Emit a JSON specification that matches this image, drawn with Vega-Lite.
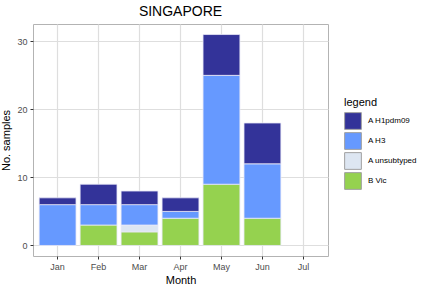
{
  "$schema": "https://vega.github.io/schema/vega-lite/v6.json",
  "width": 295,
  "height": 232,
  "autosize": {"type": "none"},
  "padding": {"left": 33, "top": 24, "right": 104, "bottom": 32},
  "background": "white",
  "title": {"text": "SINGAPORE", "fontSize": 14, "font": "Liberation Sans", "fontWeight": "normal", "color": "black", "offset": 5, "anchor": "middle"},
  "data": {
    "values": [
      {"month": "Jan", "type": "A H3", "n": 6, "ord": 3},
      {"month": "Jan", "type": "A H1pdm09", "n": 1, "ord": 4},
      {"month": "Feb", "type": "B Vic", "n": 3, "ord": 1},
      {"month": "Feb", "type": "A H3", "n": 3, "ord": 3},
      {"month": "Feb", "type": "A H1pdm09", "n": 3, "ord": 4},
      {"month": "Mar", "type": "B Vic", "n": 2, "ord": 1},
      {"month": "Mar", "type": "A unsubtyped", "n": 1, "ord": 2},
      {"month": "Mar", "type": "A H3", "n": 3, "ord": 3},
      {"month": "Mar", "type": "A H1pdm09", "n": 2, "ord": 4},
      {"month": "Apr", "type": "B Vic", "n": 4, "ord": 1},
      {"month": "Apr", "type": "A H3", "n": 1, "ord": 3},
      {"month": "Apr", "type": "A H1pdm09", "n": 2, "ord": 4},
      {"month": "May", "type": "B Vic", "n": 9, "ord": 1},
      {"month": "May", "type": "A H3", "n": 16, "ord": 3},
      {"month": "May", "type": "A H1pdm09", "n": 6, "ord": 4},
      {"month": "Jun", "type": "B Vic", "n": 4, "ord": 1},
      {"month": "Jun", "type": "A H3", "n": 8, "ord": 3},
      {"month": "Jun", "type": "A H1pdm09", "n": 6, "ord": 4}
    ]
  },
  "mark": {"type": "bar", "stroke": "#E8E8F8", "strokeWidth": 0.8},
  "encoding": {
    "x": {
      "field": "month", "type": "nominal", "title": "Month",
      "scale": {"domain": ["Jan", "Feb", "Mar", "Apr", "May", "Jun", "Jul"], "paddingInner": 0.1, "paddingOuter": 0.15},
      "axis": {"labelAngle": 0, "labelColor": "#4D4D4D", "labelFontSize": 9, "labelFont": "Liberation Sans", "titleFont": "Liberation Sans", "titleFontSize": 11, "titleFontWeight": "normal", "titleColor": "black", "tickColor": "#333333", "tickSize": 3, "domain": false, "grid": true, "gridColor": "#DEDEDE", "gridWidth": 1.2, "labelPadding": 3, "titlePadding": 3}
    },
    "y": {
      "field": "n", "type": "quantitative", "aggregate": "sum", "title": "No. samples", "stack": "zero",
      "scale": {"domain": [-1.55, 32.55], "nice": false, "zero": false},
      "axis": {"values": [0, 10, 20, 30], "labelColor": "#4D4D4D", "labelFontSize": 9, "labelFont": "Liberation Sans", "titleFont": "Liberation Sans", "titleFontSize": 11, "titleFontWeight": "normal", "titleColor": "black", "tickColor": "#333333", "tickSize": 3, "domain": false, "grid": true, "gridColor": "#DEDEDE", "gridWidth": 1.2, "labelPadding": 3, "titlePadding": 5}
    },
    "color": {
      "field": "type", "type": "nominal", "title": "legend",
      "scale": {"domain": ["A H1pdm09", "A H3", "A unsubtyped", "B Vic"], "range": ["#333399", "#6699FF", "#DDE6F2", "#95D24F"]},
      "legend": {"orient": "none", "legendX": 311, "legendY": 73, "titleFont": "Liberation Sans", "titleFontSize": 11, "titleFontWeight": "normal", "titleColor": "black", "titlePadding": 4, "labelFont": "Liberation Sans", "labelFontSize": 8, "labelColor": "black", "labelOffset": 6, "symbolType": "square", "symbolSize": 280, "symbolStrokeColor": "#A0A0A0", "symbolStrokeWidth": 1, "rowPadding": -4, "padding": 0}
    },
    "order": {"field": "ord", "type": "quantitative"}
  },
  "config": {
    "view": {"stroke": "#B3B3B3", "strokeWidth": 1}
  }
}
